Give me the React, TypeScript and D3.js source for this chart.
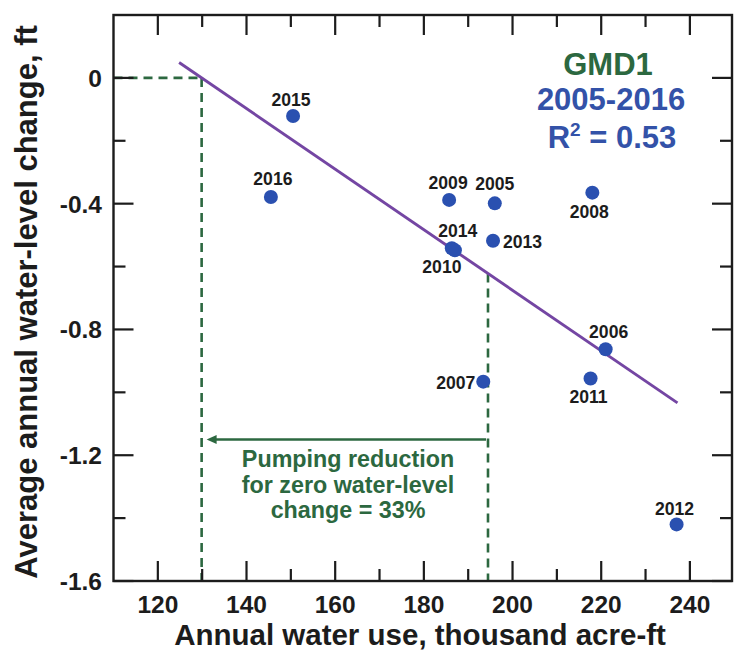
import React from "react";
import * as d3 from "d3";

// Annual observations, GMD1, 2005-2016
const YEARS = [2005, 2006, 2007, 2008, 2009, 2010, 2011, 2012, 2013, 2014, 2015, 2016];
// Annual water use, thousand acre-ft
const WATER_USE = [196.0, 221.0, 193.4, 218.0, 185.7, 187.0, 217.6, 237.0, 195.6, 186.3, 150.5, 145.5];
// Average annual water-level change, ft
const LEVEL_CHANGE = [-0.399, -0.863, -0.966, -0.365, -0.388, -0.548, -0.956, -1.42, -0.518, -0.542, -0.121, -0.379];

// Extent of the fitted trend line along the water-use axis
const FIT_RANGE = [124.8, 237.2];
// Level at which the reduction arrow is drawn
const ARROW_LEVEL = -1.15;

const X_DOMAIN = [110, 249.5];
const Y_DOMAIN = [-1.6, 0.2];
const X_MAJOR = [120, 140, 160, 180, 200, 220, 240];
const X_MINOR = [130, 150, 170, 190, 210, 230];
const Y_MAJOR = [0, -0.4, -0.8, -1.2, -1.6];
const Y_MINOR = [-0.2, -0.6, -1.0, -1.4];
const Y_TICK_LABELS = ["0", "-0.4", "-0.8", "-1.2", "-1.6"];

const TITLE_LINES = ["GMD1", "2005-2016"];
const R2_TEXT = "0.53";
const NOTE_LINES = ["Pumping reduction", "for zero water-level", "change = 33%"];
const X_TITLE = "Annual water use, thousand acre-ft";
const Y_TITLE = "Average annual water-level change, ft";

// Label placement around each dot: offset in px and text anchor
const LABEL_PLACE: Record<number, [number, number, string]> = {
  2005: [0, -13, "middle"],
  2006: [3, -11, "middle"],
  2007: [-8, 7.5, "end"],
  2008: [-3, 25.5, "middle"],
  2009: [-1, -11, "middle"],
  2010: [-13, 23, "middle"],
  2011: [-2, 24.5, "middle"],
  2012: [-2, -9.5, "middle"],
  2013: [10, 7.5, "start"],
  2014: [6, -11, "middle"],
  2015: [-2, -9.5, "middle"],
  2016: [2, -12, "middle"],
};

const W = 735;
const H = 651;
const LEFT = 113.5;
const RIGHT = 732;
const TOP = 15;
const BOTTOM = 581;

const FONT = "'Liberation Sans', Arial, Helvetica, sans-serif";
const GREEN = "#2c6840";
const BLUE = "#3352a8";
const DOT = "#2a50b0";
const PURPLE = "#7446a3";
const INK = "#1c1c1c";

export default function App() {
  const x = d3.scaleLinear().domain(X_DOMAIN).range([LEFT, RIGHT]);
  const y = d3.scaleLinear().domain(Y_DOMAIN).range([BOTTOM, TOP]);

  // Least-squares fit of level change on water use
  const mx = d3.mean(WATER_USE) as number;
  const my = d3.mean(LEVEL_CHANGE) as number;
  let sxy = 0;
  let sxx = 0;
  WATER_USE.forEach((v, i) => {
    sxy += (v - mx) * (LEVEL_CHANGE[i] - my);
    sxx += (v - mx) * (v - mx);
  });
  const slope = sxy / sxx;
  const intercept = my - slope * mx;
  const fit = (v: number) => intercept + slope * v;
  const zeroUse = -intercept / slope;

  const fitLine = d3
    .line<number>()
    .x((d) => x(d))
    .y((d) => y(fit(d)))(FIT_RANGE);

  const dash = "9 6";
  const ax0 = x(zeroUse);
  const axMean = x(mx);
  const ay = y(ARROW_LEVEL);

  return (
    <svg
      width={W}
      height={H}
      viewBox={`0 0 ${W} ${H}`}
      style={{ position: "absolute", left: 0, top: 0, background: "#fff" }}
      fontFamily={FONT}
      fontWeight="bold"
    >
      {/* guides for the zero-change reading */}
      <g stroke={GREEN} strokeWidth={2.6} strokeDasharray={dash} fill="none">
        <line x1={LEFT} x2={ax0} y1={y(0)} y2={y(0)} />
        <line x1={ax0} x2={ax0} y1={y(0)} y2={BOTTOM} />
        <line x1={axMean} x2={axMean} y1={y(fit(mx))} y2={BOTTOM} />
      </g>

      {/* reduction arrow */}
      <line x1={axMean - 2} x2={ax0 + 12} y1={ay} y2={ay} stroke={GREEN} strokeWidth={2.5} />
      <path
        d={`M${ax0 + 5},${ay} L${ax0 + 15},${ay - 4.5} L${ax0 + 15},${ay + 4.5} Z`}
        fill={GREEN}
      />
      <g fill={GREEN} fontSize={23.3} textAnchor="middle">
        {NOTE_LINES.map((t, i) => (
          <text key={t} x={348} y={467 + i * 25.7}>
            {t}
          </text>
        ))}
      </g>

      {/* trend line */}
      <path d={fitLine || ""} stroke={PURPLE} strokeWidth={2.9} fill="none" />

      {/* observations */}
      {YEARS.map((yr, i) => (
        <circle key={yr} cx={x(WATER_USE[i])} cy={y(LEVEL_CHANGE[i])} r={7} fill={DOT} />
      ))}
      <g fill={INK} fontSize={17.6}>
        {YEARS.map((yr, i) => {
          const [dx, dy, anchor] = LABEL_PLACE[yr];
          return (
            <text
              key={yr}
              x={x(WATER_USE[i]) + dx}
              y={y(LEVEL_CHANGE[i]) + dy}
              textAnchor={anchor as any}
            >
              {yr}
            </text>
          );
        })}
      </g>

      {/* frame and ticks */}
      <rect
        x={LEFT}
        y={TOP}
        width={RIGHT - LEFT}
        height={BOTTOM - TOP}
        fill="none"
        stroke={INK}
        strokeWidth={2.4}
      />
      <g stroke={INK} strokeWidth={2.2}>
        {X_MAJOR.map((v) => (
          <g key={`xm${v}`}>
            <line x1={x(v)} x2={x(v)} y1={BOTTOM} y2={BOTTOM - 20} />
            <line x1={x(v)} x2={x(v)} y1={TOP} y2={TOP + 20} />
          </g>
        ))}
        {X_MINOR.map((v) => (
          <g key={`xn${v}`}>
            <line x1={x(v)} x2={x(v)} y1={BOTTOM} y2={BOTTOM - 12} />
            <line x1={x(v)} x2={x(v)} y1={TOP} y2={TOP + 12} />
          </g>
        ))}
        {Y_MAJOR.map((v) => (
          <g key={`ym${v}`}>
            <line x1={LEFT} x2={LEFT + 20} y1={y(v)} y2={y(v)} />
            <line x1={RIGHT} x2={RIGHT - 20} y1={y(v)} y2={y(v)} />
          </g>
        ))}
        {Y_MINOR.map((v) => (
          <g key={`yn${v}`}>
            <line x1={LEFT} x2={LEFT + 12} y1={y(v)} y2={y(v)} />
            <line x1={RIGHT} x2={RIGHT - 12} y1={y(v)} y2={y(v)} />
          </g>
        ))}
      </g>

      {/* tick labels */}
      <g fill={INK} fontSize={24.5}>
        {X_MAJOR.map((v) => (
          <text key={`xl${v}`} x={x(v)} y={612.5} textAnchor="middle">
            {v}
          </text>
        ))}
        {Y_MAJOR.map((v, i) => (
          <text key={`yl${v}`} x={102} y={y(v) + 9} textAnchor="end">
            {Y_TICK_LABELS[i]}
          </text>
        ))}
      </g>

      {/* axis titles */}
      <text x={420} y={644.5} fontSize={29.5} fill={INK} textAnchor="middle">
        {X_TITLE}
      </text>
      <text
        transform={`translate(37,${(TOP + BOTTOM) / 2 + 4}) rotate(-90)`}
        fontSize={31}
        fill={INK}
        textAnchor="middle"
      >
        {Y_TITLE}
      </text>

      {/* panel heading */}
      <g fontSize={31} textAnchor="middle">
        <text x={608} y={75} fill={GREEN}>
          {TITLE_LINES[0]}
        </text>
        <text x={611} y={110} fill={BLUE}>
          {TITLE_LINES[1]}
        </text>
        <text x={612} y={148} fill={BLUE}>
          R<tspan fontSize={19} dy={-12}>2</tspan>
          <tspan dy={12}>{` = ${R2_TEXT}`}</tspan>
        </text>
      </g>
    </svg>
  );
}
